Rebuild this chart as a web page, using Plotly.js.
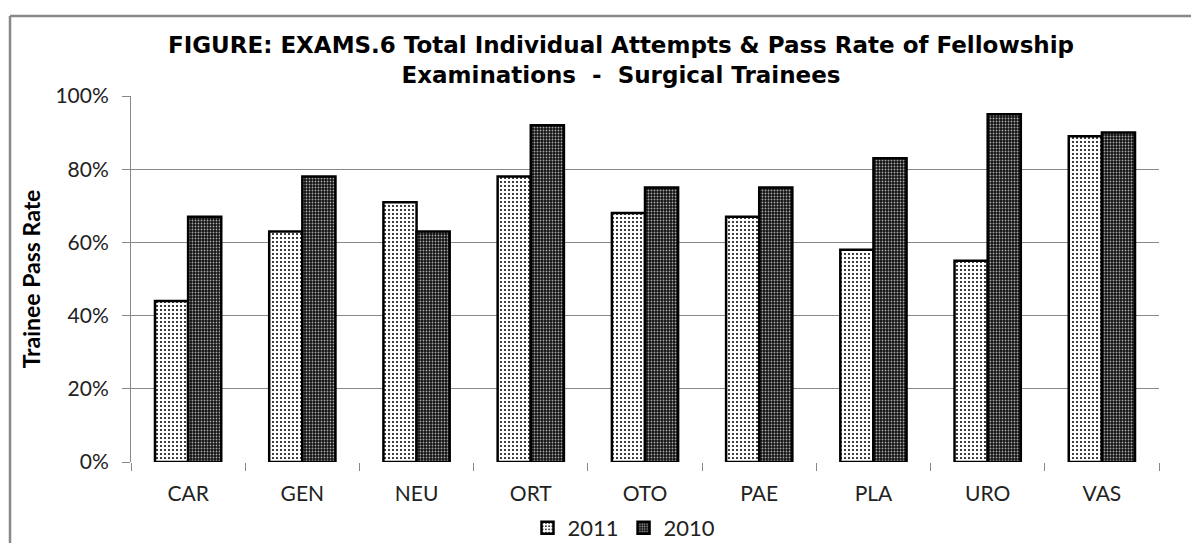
<!DOCTYPE html>
<html>
<head>
<meta charset="utf-8">
<script src="https://cdn.plot.ly/plotly-3.0.1.min.js"></script>
<style>html,body{margin:0;padding:0;background:#fff;overflow:hidden;}#chart{width:1191px;height:543px;overflow:hidden;}</style>
</head>
<body>
<div id="chart"></div>
<script>
const categories = ["CAR", "GEN", "NEU", "ORT", "OTO", "PAE", "PLA", "URO", "VAS"];
const pass2011 = [0.44, 0.63, 0.71, 0.78, 0.68, 0.67, 0.58, 0.55, 0.89];
const pass2010 = [0.67, 0.78, 0.63, 0.92, 0.75, 0.75, 0.83, 0.95, 0.90];
const yTickVals = [0, 0.2, 0.4, 0.6, 0.8, 1.0];
const yTickText = ["0%", "20%", "40%", "60%", "80%", "100%"];
const yGridVals = [0.2, 0.4, 0.6, 0.8, 1.0];

const W = 1191, H = 543;
const L = 131, R = 32, T = 96, B = 81;
const pw = W - L - R, ph = H - T - B;
const px = x => (x - L) / pw;
const py = y => (H - B - y) / ph;

const tick = {family: "Lato, 'Open Sans', sans-serif", size: 21, color: "#222"};

const traces = [
  {
    type: "bar", name: "2011", x: categories, y: pass2011,
    marker: {
      color: "#ffffff",
      line: {color: "#000", width: 2.5},
      pattern: {shape: ".", bgcolor: "#ffffff", fgcolor: "#000000", size: 4, solidity: 0.2}
    },
    hoverinfo: "x+y"
  },
  {
    type: "bar", name: "2010", x: categories, y: pass2010,
    marker: {
      color: "#111111",
      line: {color: "#000", width: 2.5},
      pattern: {shape: ".", bgcolor: "#111111", fgcolor: "#aaaaaa", size: 3, solidity: 0.3}
    },
    hoverinfo: "x+y"
  },
  {
    type: "scatter", x: [categories[0]], y: [0], yaxis: "y2",
    mode: "markers", marker: {opacity: 0}, showlegend: false, hoverinfo: "skip"
  }
];

const layout = {
  width: W, height: H,
  margin: {l: L, r: R, t: T, b: B, autoexpand: false},
  paper_bgcolor: "#fff", plot_bgcolor: "#fff",
  barmode: "group", bargap: 0.42, bargroupgap: 0,
  title: {
    text: "FIGURE: EXAMS.6 Total Individual Attempts &amp; Pass Rate of Fellowship<br>Examinations&nbsp;&nbsp;-&nbsp;&nbsp;Surgical Trainees",
    font: {family: "'DejaVu Sans', sans-serif", size: 23, color: "#000", weight: "bold"},
    x: px(621), xref: "paper", xanchor: "center",
    y: 1 - 53 / H, yref: "container", yanchor: "top"
  },
  xaxis: {
    type: "category",
    showline: false, showgrid: false, zeroline: false,
    ticks: "outside", tickson: "boundaries", ticklen: 8, tickcolor: "#888", tickwidth: 1,
    tickfont: tick, ticklabelstandoff: 17
  },
  yaxis: {
    range: [0, 1], tickvals: yGridVals,
    showticklabels: false, ticks: "",
    showline: false, showgrid: true, gridcolor: "#888", gridwidth: 1, zeroline: false
  },
  yaxis2: {
    overlaying: "y", side: "left", anchor: "x",
    range: [0, 1], tickvals: yTickVals, ticktext: yTickText,
    showline: true, linecolor: "#888", linewidth: 1,
    showgrid: false, zeroline: false,
    ticks: "outside", ticklen: 8, tickcolor: "#888", tickwidth: 1,
    tickfont: tick, ticklabelstandoff: 9,
    title: {text: "Trainee Pass Rate", font: {family: "Lato, sans-serif", size: 23, color: "#000", weight: "bold"}, standoff: 8}
  },
  legend: {
    orientation: "h", x: px(624), xanchor: "center", y: py(528), yanchor: "middle",
    font: {family: "Lato, sans-serif", size: 22, color: "#222"},
    itemwidth: 30, bgcolor: "rgba(0,0,0,0)"
  },
  shapes: [
    {type: "line", xref: "paper", yref: "paper", x0: px(10), x1: px(10), y0: py(600), y1: py(16),
     line: {color: "#888", width: 2.5}, layer: "below"},
    {type: "line", xref: "paper", yref: "paper", x0: px(10), x1: px(1300), y0: py(16), y1: py(16),
     line: {color: "#888", width: 2.5}, layer: "below"}
  ],
  showlegend: true
};

Plotly.newPlot("chart", traces, layout, {displayModeBar: false, staticPlot: true});
</script>
</body>
</html>
